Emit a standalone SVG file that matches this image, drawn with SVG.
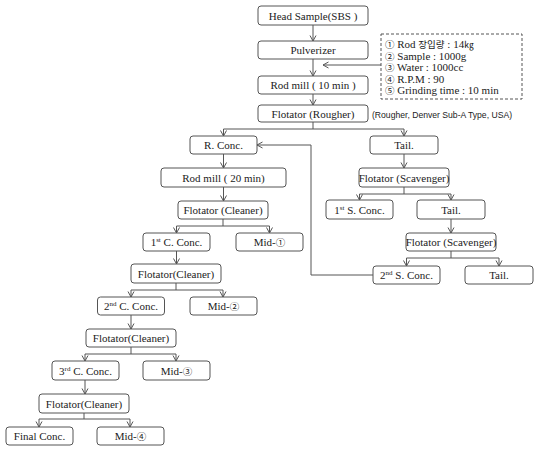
<svg xmlns="http://www.w3.org/2000/svg" width="542" height="452" viewBox="0 0 542 452">
<style>
  rect.n { fill: #fff; stroke: #555; stroke-width: 1; }
  text { font-family: "Liberation Serif", "Noto Sans CJK KR", serif; font-size: 11px; fill: #222; }
  text.c { text-anchor: middle; }
  text.s { font-family: "Liberation Sans", "Noto Sans CJK KR", sans-serif; font-size: 9.5px; }
  .l { fill: none; stroke: #555; stroke-width: 1; }
  .a { marker-end: url(#ar); }
  tspan.sup { font-size: 7px; }
  tspan.k { font-size: 9.5px; }
</style>
<defs>
  <marker id="ar" markerWidth="8" markerHeight="8" refX="6" refY="3.5" orient="auto" markerUnits="userSpaceOnUse">
    <path d="M0.5,0.5 L6,3.5 L0.5,6.5" fill="none" stroke="#555" stroke-width="1"/>
  </marker>
</defs>
<rect width="542" height="452" fill="#fff"/>

<g id="connectors">
  <path class="l a" d="M313,25 V41"/>
  <path class="l a" d="M313,59 V76"/>
  <path class="l a" d="M313,94 V105"/>
  <path class="l a" d="M381,65 H323"/>
  <path class="l" d="M313,122 V129 M223.5,129 H404"/>
  <path class="l a" d="M223.5,129 V136"/>
  <path class="l a" d="M404,129 V136"/>
  <path class="l a" d="M223.5,154 V168"/>
  <path class="l a" d="M223.5,187 V201"/>
  <path class="l" d="M223,219 V226 M176.5,226 H269.5"/>
  <path class="l a" d="M176.5,226 V233"/>
  <path class="l a" d="M269.5,226 V233"/>
  <path class="l a" d="M176.5,251 V264"/>
  <path class="l" d="M176,283 V290 M131,290 H223"/>
  <path class="l a" d="M131,290 V297"/>
  <path class="l a" d="M223,290 V297"/>
  <path class="l a" d="M131,315 V329"/>
  <path class="l" d="M131,347 V354 M85,354 H176"/>
  <path class="l a" d="M85,354 V361"/>
  <path class="l a" d="M176,354 V361"/>
  <path class="l a" d="M85,380 V394"/>
  <path class="l" d="M84,413 V419 M39,419 H130"/>
  <path class="l a" d="M39,419 V427"/>
  <path class="l a" d="M130,419 V427"/>
  <path class="l a" d="M404,154 V168"/>
  <path class="l" d="M404,187 V194 M359.5,194 H451"/>
  <path class="l a" d="M359.5,194 V200"/>
  <path class="l a" d="M451,194 V200"/>
  <path class="l a" d="M451,219 V233"/>
  <path class="l" d="M451,251 V258 M406.5,258 H499"/>
  <path class="l a" d="M406.5,258 V266"/>
  <path class="l a" d="M499,258 V266"/>
  <path class="l a" d="M373,275 H311 V145 H257"/>
</g>

<g id="head"><rect class="n" x="258" y="6" width="110" height="19" rx="3"/><text class="c" x="313" y="19.5">Head Sample(SBS )</text></g>
<g id="pulverizer"><rect class="n" x="258" y="41" width="110" height="18" rx="3"/><text class="c" x="313" y="54">Pulverizer</text></g>
<g id="rodmill10"><rect class="n" x="258" y="76" width="110" height="18" rx="3"/><text class="c" x="313" y="89">Rod mill (  10  min )</text></g>
<g id="rougher"><rect class="n" x="258" y="105" width="110" height="17" rx="3"/><text class="c" x="313" y="117.5">Flotator (Rougher)</text></g>
<g id="rougher-note"><text class="s" x="372" y="118" textLength="140" lengthAdjust="spacingAndGlyphs">(Rougher, Denver Sub-A Type, USA)</text></g>

<g id="conditions">
  <rect x="381" y="34" width="141" height="65" fill="#fff" stroke="#555" stroke-width="1" stroke-dasharray="3,2"/>
  <text x="385" y="48"><tspan class="k">①</tspan> Rod <tspan class="k">장입량</tspan> : 14<tspan class="k">㎏</tspan></text>
  <text x="385" y="59.5"><tspan class="k">②</tspan> Sample : 1000g</text>
  <text x="385" y="71"><tspan class="k">③</tspan> Water : 1000cc</text>
  <text x="385" y="82.5"><tspan class="k">④</tspan> R.P.M : 90</text>
  <text x="385" y="94"><tspan class="k">⑤</tspan> Grinding time : 10 min</text>
</g>

<g id="rconc"><rect class="n" x="190" y="136" width="67" height="18" rx="3"/><text class="c" x="223.5" y="149">R. Conc.</text></g>
<g id="rodmill20"><rect class="n" x="161" y="168" width="125" height="19" rx="3"/><text class="c" x="223.5" y="181.5">Rod mill  ( 20 min)</text></g>
<g id="cleaner1"><rect class="n" x="178" y="201" width="90" height="18" rx="3"/><text class="c" x="223" y="214">Flotator (Cleaner)</text></g>
<g id="cconc1"><rect class="n" x="143" y="233" width="67" height="18" rx="3"/><text class="c" x="176.5" y="246">1<tspan class="sup" dy="-4">st</tspan><tspan dy="4"> C. Conc.</tspan></text></g>
<g id="mid1"><rect class="n" x="236" y="233" width="67" height="18" rx="3"/><text class="c" x="269.5" y="246">Mid-<tspan class="k">①</tspan></text></g>
<g id="cleaner2"><rect class="n" x="131" y="264" width="90" height="19" rx="3"/><text class="c" x="176" y="277.5">Flotator(Cleaner)</text></g>
<g id="cconc2"><rect class="n" x="97.5" y="297" width="67" height="18" rx="3"/><text class="c" x="131" y="310">2<tspan class="sup" dy="-4">nd</tspan><tspan dy="4"> C. Conc.</tspan></text></g>
<g id="mid2"><rect class="n" x="190" y="297" width="67" height="18" rx="3"/><text class="c" x="223.5" y="310">Mid-<tspan class="k">②</tspan></text></g>
<g id="cleaner3"><rect class="n" x="86" y="329" width="90" height="18" rx="3"/><text class="c" x="131" y="342">Flotator(Cleaner)</text></g>
<g id="cconc3"><rect class="n" x="52" y="361" width="67" height="19" rx="3"/><text class="c" x="85.5" y="374.5">3<tspan class="sup" dy="-4">rd</tspan><tspan dy="4"> C. Conc.</tspan></text></g>
<g id="mid3"><rect class="n" x="143" y="361" width="67" height="19" rx="3"/><text class="c" x="176.5" y="374.5">Mid-<tspan class="k">③</tspan></text></g>
<g id="cleaner4"><rect class="n" x="39" y="394" width="90" height="19" rx="3"/><text class="c" x="84" y="407.5">Flotator(Cleaner)</text></g>
<g id="final"><rect class="n" x="6" y="427" width="67" height="18" rx="3"/><text class="c" x="39.5" y="440">Final Conc.</text></g>
<g id="mid4"><rect class="n" x="97" y="427" width="67" height="18" rx="3"/><text class="c" x="130.5" y="440">Mid-<tspan class="k">④</tspan></text></g>

<g id="tail1"><rect class="n" x="370" y="136" width="68" height="18" rx="3"/><text class="c" x="404" y="149">Tail.</text></g>
<g id="scav1"><rect class="n" x="359" y="168" width="90" height="19" rx="3"/><text class="c" x="404" y="181.5">Flotator (Scavenger)</text></g>
<g id="sconc1"><rect class="n" x="326" y="200" width="67" height="19" rx="3"/><text class="c" x="359.5" y="213.5">1<tspan class="sup" dy="-4">st</tspan><tspan dy="4"> S. Conc.</tspan></text></g>
<g id="tail2"><rect class="n" x="417" y="200" width="68" height="19" rx="3"/><text class="c" x="451" y="213.5">Tail.</text></g>
<g id="scav2"><rect class="n" x="406" y="233" width="90" height="18" rx="3"/><text class="c" x="451" y="246">Flotator (Scavenger)</text></g>
<g id="sconc2"><rect class="n" x="373" y="266" width="67" height="18" rx="3"/><text class="c" x="406.5" y="279">2<tspan class="sup" dy="-4">nd</tspan><tspan dy="4"> S. Conc.</tspan></text></g>
<g id="tail3"><rect class="n" x="465" y="266" width="68" height="18" rx="3"/><text class="c" x="499" y="279">Tail.</text></g>
</svg>
